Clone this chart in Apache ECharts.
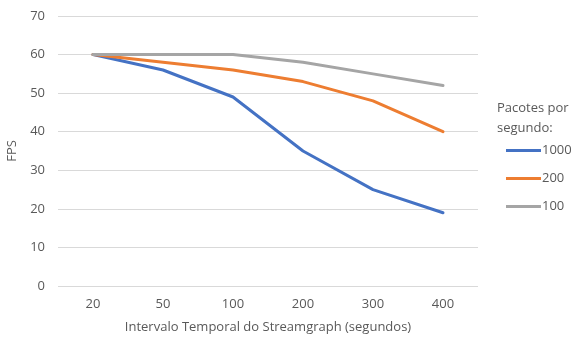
<!DOCTYPE html>
<html>
<head>
<meta charset="utf-8">
<script src="https://cdn.jsdelivr.net/npm/echarts@6/dist/echarts.min.js"></script>
<style>
  html, body { margin: 0; padding: 0; background: #fff; }
  #chart { width: 577px; height: 339px; }
</style>
</head>
<body>
<div id="chart"></div>
<script>
// Interval of the streamgraph (seconds)
const intervals = ['20', '50', '100', '200', '300', '400'];
// FPS per packet rate
const fps1000 = [60, 56, 49, 35, 25, 19];
const fps200 = [60, 58, 56, 53, 48, 40];
const fps100 = [60, 60, 60, 58, 55, 52];
const seriesNames = ['1000', '200', '100'];

const font = '"Open Sans", Lato, sans-serif';
const textColor = '#595959';

const chart = echarts.init(document.getElementById('chart'), null, { renderer: 'canvas' });

function lineSeries(name, data, color) {
  return {
    name: name,
    type: 'line',
    data: data,
    symbol: 'none',
    lineStyle: { color: color, width: 3, cap: 'round', join: 'round' },
    itemStyle: { color: color },
    emphasis: { disabled: true }
  };
}

chart.setOption({
  animation: false,
  textStyle: { fontFamily: font },
  grid: { left: 58, right: 99, top: 16, bottom: 53, containLabel: false, outerBoundsMode: 'none' },
  graphic: [{
    type: 'text',
    left: 497,
    top: 98,
    style: {
      text: 'Pacotes por\nsegundo:',
      fill: textColor,
      font: '13px ' + font,
      lineHeight: 20
    }
  }],
  legend: {
    orient: 'vertical',
    left: 501,
    top: 139,
    itemWidth: 35,
    itemHeight: 3,
    itemGap: 15,
    icon: 'rect',
    data: seriesNames,
    textStyle: { color: textColor, fontSize: 13, fontFamily: font, padding: [0, 0, 0, -4] }
  },
  xAxis: {
    type: 'category',
    data: intervals,
    boundaryGap: true,
    name: 'Intervalo Temporal do Streamgraph (segundos)',
    nameLocation: 'middle',
    nameGap: 35,
    nameTextStyle: { color: textColor, fontSize: 13, fontFamily: font },
    axisLine: { show: false },
    axisTick: { show: false },
    axisLabel: { color: textColor, fontSize: 13, margin: 12, fontFamily: font }
  },
  yAxis: {
    type: 'value',
    min: 0,
    max: 70,
    interval: 10,
    name: 'FPS',
    nameLocation: 'middle',
    nameGap: 36,
    nameRotate: 90,
    nameTextStyle: { color: textColor, fontSize: 13, fontFamily: font },
    axisLine: { show: false },
    axisTick: { show: false },
    axisLabel: { color: textColor, fontSize: 13, margin: 13, fontFamily: font },
    splitLine: { lineStyle: { color: '#d9d9d9', width: 1 } }
  },
  series: [
    lineSeries(seriesNames[0], fps1000, '#4472C4'),
    lineSeries(seriesNames[1], fps200, '#ED7D31'),
    lineSeries(seriesNames[2], fps100, '#A5A5A5')
  ]
});
</script>
</body>
</html>
